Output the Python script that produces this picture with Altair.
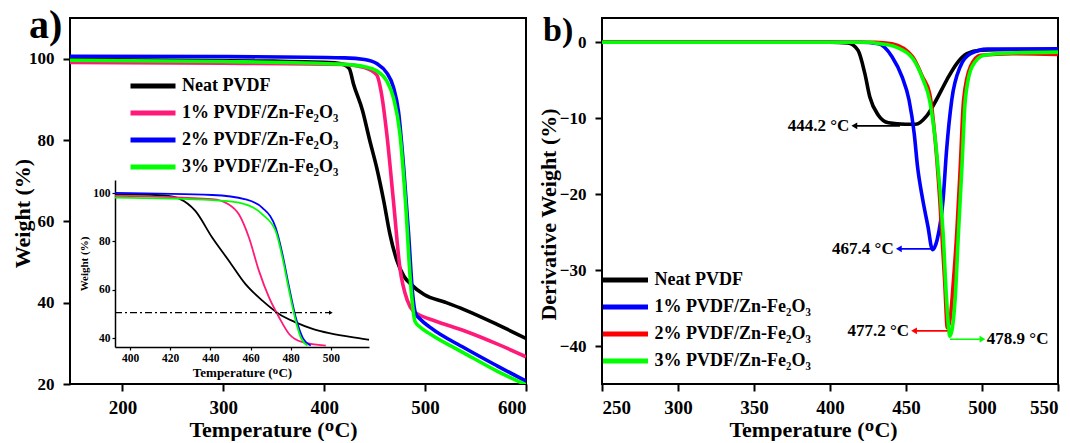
import altair as alt
import pandas as pd

FONT = "Liberation Serif"

series = ["Neat PVDF", "1% PVDF/Zn-Fe₂O₃", "2% PVDF/Zn-Fe₂O₃", "3% PVDF/Zn-Fe₂O₃"]
colors_a = ["#000000", "#ff1a7a", "#0000ff", "#00ff00"]
colors_b = ["#000000", "#0000ff", "#ff0000", "#00ff00"]

# ---------- panel a: TGA main ----------
a_neat_T = [148, 250, 350, 410, 420, 425, 429, 438, 445, 452, 459, 465, 472, 479, 486, 499, 520, 538.7, 571.8, 600]
a_neat_W = [99.8, 99.6, 99.4, 99.0, 98.5, 97.5, 93.8, 87.2, 80.0, 73.2, 65.0, 57.0, 50.4, 46.5, 44.5, 42.0, 40.1, 38.3, 34.6, 31.2]
a_p1_T = [148, 300, 420, 440, 452, 457, 462, 468.6, 475, 482.5, 488.6, 492.6, 510, 538.7, 570, 600]
a_p1_W = [99.1, 98.9, 98.6, 97.8, 96.0, 91.0, 81.5, 65.0, 48.6, 40.5, 37.8, 37.2, 35.5, 33.1, 30.0, 26.7]
a_p2_T = [148, 300, 420, 440, 452, 462, 468.6, 473.6, 478.8, 483.6, 487.6, 490.6, 495, 505.7, 538.7, 571.8, 600]
a_p2_W = [100.6, 100.5, 100.2, 99.8, 98.8, 96.5, 93.0, 87.0, 73.0, 57.0, 42.2, 37.3, 36.0, 33.8, 28.9, 24.4, 20.7]
a_p3_T = [148, 300, 420, 440, 452, 462, 468.6, 475, 480.5, 485.6, 490, 495, 505.7, 538.7, 571.8, 600]
a_p3_W = [99.6, 99.3, 98.6, 98.0, 97.0, 94.5, 90.4, 81.6, 65.0, 44.7, 35.4, 34.0, 32.2, 27.6, 23.1, 19.8]

# ---------- panel a: inset ----------
i_neat_T = [392.5, 410, 419, 424.2, 432.5, 440.9, 449.2, 457.5, 465.9, 474.2, 482.5, 490.9, 499.2, 515.9, 519]
i_neat_W = [99.5, 99.3, 98.8, 97.8, 92.6, 81.6, 72.0, 62.3, 55.5, 50.0, 46.5, 43.8, 42.0, 39.7, 39.3]
i_p1_T = [392.5, 440.9, 449.2, 454.2, 459.2, 464.2, 469.2, 474.2, 479.2, 485.9, 497.5]
i_p1_W = [98.8, 97.5, 95.3, 91.2, 81.6, 67.8, 56.8, 48.6, 41.7, 38.3, 36.9]
i_p2_T = [392.5, 440.9, 457.5, 465.9, 472.5, 475.9, 479.2, 482.5, 485.9, 490]
i_p2_W = [100.1, 99.2, 97.4, 93.9, 85.7, 74.7, 61.0, 48.6, 40.3, 36.9]
i_p3_T = [392.5, 440.9, 454.2, 465.9, 472.5, 475.9, 479.2, 482.5, 485, 488.4]
i_p3_W = [98.1, 97.1, 96.0, 91.2, 84.3, 73.3, 59.6, 47.2, 40.3, 36.9]
i_ref_T = [392.5]
i_ref_T2 = [500]
i_ref_W = [50.5]

# ---------- panel b: DTG ----------
b_neat_T = [250, 300, 350, 400, 411.7, 418.4, 422.9, 426.2, 431.8, 438.5, 449.8, 456.5, 463.2, 469.9, 476.7, 483.4, 490.1, 499, 520, 550]
b_neat_D = [0, 0, 0, 0, -0.1, -1.05, -4.1, -7.2, -9.6, -10.6, -10.8, -10.8, -9.8, -7.6, -5.0, -2.8, -1.5, -1.05, -0.95, -0.95]
b_p1_T = [250, 350, 420, 431.8, 440.8, 447.5, 452, 455.4, 457.6, 461, 464.4, 467.4, 470.5, 474.4, 476.7, 480.1, 485.7, 492.4, 503.6, 550]
b_p1_D = [0, 0, 0, -0.2, -1.9, -4.6, -7.6, -12, -16.4, -20.7, -24.2, -27.3, -26, -20.7, -14.2, -7.6, -3.2, -1.5, -0.9, -0.85]
b_p2_T = [250, 350, 430, 440.8, 454.3, 461, 465.5, 468.8, 472.2, 475.5, 477.2, 479, 481.1, 483.4, 485.7, 487.9, 492.4, 499, 520, 550]
b_p2_D = [0, 0, 0, -0.2, -1.9, -4.6, -6.7, -12, -20.7, -31.7, -37.6, -36.5, -31.7, -25.1, -16.4, -7.6, -3.2, -1.7, -1.5, -1.6]
b_p3_T = [250, 350, 425, 433, 443, 454.3, 461, 465.5, 470, 474.4, 476.7, 478.9, 482.3, 484.5, 486.8, 489, 493.5, 501.4, 520, 550]
b_p3_D = [0, 0, 0, -0.2, -0.6, -2.1, -4.8, -7.6, -14.2, -25.1, -33.9, -38.7, -33.9, -25.1, -16.4, -7.6, -3.2, -1.7, -1.4, -1.3]

# annotations (panel b)
ann_text = ["444.2 °C", "467.4 °C", "477.2 °C", "478.9 °C"]
ann_tail = [446, 467.4, 477.2, 478.9]
ann_tip = [416, 445.3, 455.3, 500.3]
ann_D = [-11.0, -27.2, -38.0, -39.1]
ann_textT = [412.7, 441.9, 452.0, 503.2]
ann_color = ["#000000", "#0000ff", "#ff0000", "#00ff00"]

panel_labels = ["a)", "b)"]


def frame(Ts, Vs, name, k):
    return pd.DataFrame({"T": Ts, "V": Vs, "S": name, "k": k, "i": range(len(Ts))})


df_a = pd.concat([frame(a_neat_T, a_neat_W, series[0], 0), frame(a_p1_T, a_p1_W, series[1], 1),
                  frame(a_p2_T, a_p2_W, series[2], 2), frame(a_p3_T, a_p3_W, series[3], 3)])
df_i = pd.concat([frame(i_neat_T, i_neat_W, series[0], 0), frame(i_p1_T, i_p1_W, series[1], 1),
                  frame(i_p2_T, i_p2_W, series[2], 2), frame(i_p3_T, i_p3_W, series[3], 3)])
df_b = pd.concat([frame(b_neat_T, b_neat_D, series[0], 0), frame(b_p1_T, b_p1_D, series[1], 1),
                  frame(b_p2_T, b_p2_D, series[2], 2), frame(b_p3_T, b_p3_D, series[3], 3)])

W, H = 456, 366

LEG = dict(orient="none", title=None, symbolType="stroke", symbolSize=2025, symbolStrokeWidth=5,
           labelFont=FONT, labelFontSize=18, labelFontWeight="bold", labelColor="black",
           padding=0, labelOffset=4, labelLimit=400, rowPadding=0)

# ----- panel a -----
xa = alt.X("T:Q", scale=alt.Scale(domain=[148, 600], nice=False, zero=False),
           axis=alt.Axis(values=[200, 300, 400, 500, 600], title="Temperature (ᴼC)",
                         titleX=203, titleY=52, titleBaseline="alphabetic"))
ya = alt.Y("V:Q", scale=alt.Scale(domain=[20, 110], nice=False, zero=False),
           axis=alt.Axis(values=[20, 40, 60, 80, 100], title="Weight (%)",
                         titleX=-41, titleY=195, titleBaseline="alphabetic"))
main_a = alt.Chart(df_a).mark_line(strokeWidth=3.6, interpolate="monotone", clip=True).encode(
    x=xa, y=ya,
    color=alt.Color("S:N", sort=series, scale=alt.Scale(domain=series, range=colors_a),
                    legend=alt.Legend(legendX=58, legendY=54.5, clipHeight=27, **LEG)),
    detail="k:N", order="i:Q")

xi_scale = alt.Scale(domain=[392.5, 519], range=[45, 299], nice=False, zero=False)
yi_scale = alt.Scale(domain=[36.3, 105.4], range=[329, 162], nice=False, zero=False)
INS_AX = dict(domain=True, domainColor="black", domainWidth=1.5, tickSize=3, tickWidth=1.2,
              labelFontSize=11.5, labelPadding=2)
xi_axis = alt.Axis(orient="bottom", offset=-37, values=[400, 420, 440, 460, 480, 500],
                   title="Temperature (ᴼC)", titleFontSize=13, titlePadding=3, **INS_AX)
yi_axis = alt.Axis(orient="left", offset=-45, values=[40, 60, 80, 100],
                   title="Weight (%)", titleFontSize=11, titlePadding=3, **INS_AX)
inset_lines = alt.Chart(df_i).mark_line(strokeWidth=1.8, interpolate="monotone").encode(
    x=alt.X("T:Q", scale=xi_scale, axis=xi_axis),
    y=alt.Y("V:Q", scale=yi_scale, axis=yi_axis),
    color=alt.Color("S:N", sort=series, scale=alt.Scale(domain=series, range=colors_a), legend=None),
    detail="k:N", order="i:Q")
df_ref = pd.DataFrame({"T": i_ref_T, "T2": i_ref_T2, "V": i_ref_W})
inset_ref = alt.Chart(df_ref).mark_rule(color="black", strokeWidth=1.2, strokeDash=[7, 3, 2, 3]).encode(
    x=alt.X("T:Q", scale=xi_scale, axis=xi_axis), x2="T2:Q",
    y=alt.Y("V:Q", scale=yi_scale, axis=yi_axis))
inset_head = alt.Chart(df_ref).mark_point(shape="triangle-right", filled=True, color="black",
                                          size=18, opacity=1).encode(
    x=alt.X("T2:Q", scale=xi_scale, axis=xi_axis), y=alt.Y("V:Q", scale=yi_scale, axis=yi_axis))
inset = alt.layer(inset_lines, inset_ref, inset_head)

lab_a = alt.Chart(pd.DataFrame({"lab": [panel_labels[0]]})).mark_text(
    font=FONT, fontSize=40, fontWeight="bold", align="left", baseline="alphabetic", color="black").encode(
    text="lab:N", x=alt.value(-41), y=alt.value(20))

panel_a = alt.layer(main_a, inset, lab_a).resolve_scale(x="independent", y="independent").properties(
    width=W, height=H)

# ----- panel b -----
xb_scale = alt.Scale(domain=[250, 550], nice=False, zero=False)
yb_scale = alt.Scale(domain=[-45, 3.2], nice=False, zero=False)
xb = alt.X("T:Q", scale=xb_scale,
           axis=alt.Axis(values=[250, 300, 350, 400, 450, 500, 550], title="Temperature (ᴼC)",
                         titleX=211, titleY=52, titleBaseline="alphabetic"))
yb = alt.Y("V:Q", scale=yb_scale,
           axis=alt.Axis(values=[-40, -30, -20, -10, 0], title="Derivative Weight (%)",
                         titleX=-47, titleY=196, titleBaseline="alphabetic"))
main_b = alt.Chart(df_b).mark_line(strokeWidth=3.6, interpolate="monotone").encode(
    x=xb, y=yb,
    color=alt.Color("S:N", sort=series, scale=alt.Scale(domain=series, range=colors_b),
                    legend=alt.Legend(legendX=-1.5, legendY=248.8, clipHeight=26.3, **LEG)),
    detail="k:N", order="i:Q")

layers_b = [main_b]
for j in range(len(ann_text)):
    d = pd.DataFrame({"T": [ann_tail[j]], "T2": [ann_tip[j]], "V": [ann_D[j]],
                      "TT": [ann_textT[j]], "txt": [ann_text[j]]})
    right = ann_tip[j] > ann_tail[j]
    layers_b.append(alt.Chart(d).mark_rule(color=ann_color[j], strokeWidth=1.6).encode(
        x=alt.X("T:Q", scale=xb_scale), x2="T2:Q", y=alt.Y("V:Q", scale=yb_scale)))
    layers_b.append(alt.Chart(d).mark_point(shape="triangle-right" if right else "triangle-left",
                                            filled=True, color=ann_color[j], size=45, opacity=1).encode(
        x=alt.X("T2:Q", scale=xb_scale), y=alt.Y("V:Q", scale=yb_scale)))
    layers_b.append(alt.Chart(d).mark_text(font=FONT, fontSize=17, fontWeight="bold", color="black",
                                           align="left" if right else "right", baseline="middle").encode(
        x=alt.X("TT:Q", scale=xb_scale), y=alt.Y("V:Q", scale=yb_scale), text="txt:N"))

lab_b = alt.Chart(pd.DataFrame({"lab": [panel_labels[1]]})).mark_text(
    font=FONT, fontSize=34, fontWeight="bold", align="left", baseline="alphabetic", color="black").encode(
    text="lab:N", x=alt.value(-59), y=alt.value(23))
layers_b.append(lab_b)

panel_b = alt.layer(*layers_b).properties(width=W, height=H)

chart = alt.hconcat(panel_a, panel_b, spacing=76, bounds="flush").resolve_scale(
    color="independent"
).properties(
    padding={"left": 10, "top": 5, "right": 0, "bottom": 0}
).configure_view(
    stroke="black", strokeWidth=2
).configure_axis(
    domain=False, grid=False, tickColor="black", tickWidth=2, tickSize=7,
    labelFont=FONT, labelFontWeight="bold", labelColor="black",
    titleFont=FONT, titleFontWeight="bold", titleColor="black", titleFontSize=22
).configure_axisX(labelFontSize=19, labelPadding=7).configure_axisY(labelFontSize=17, labelPadding=9)

chart.save("out.html", embed_options={"renderer": "svg", "actions": False})
